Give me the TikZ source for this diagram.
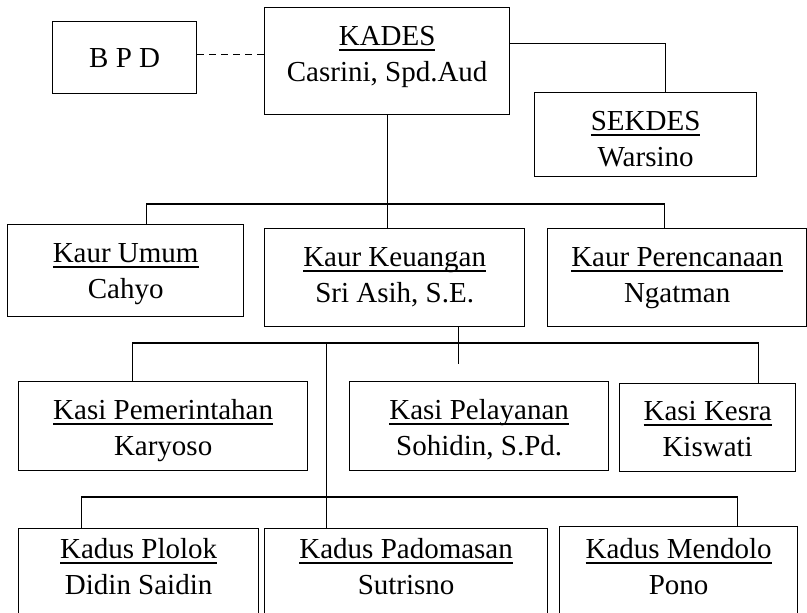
\documentclass[tikz,border=0pt]{standalone}
\usepackage{fontspec}
\setmainfont{Liberation Serif}
\newlength\ulwd
\newcommand\ulbox[1]{\settowidth{\ulwd}{#1}\makebox[0pt][l]{\rule[-5pt]{\ulwd}{1.3pt}}#1}
\newcommand\twolines[2]{\begin{tabular}[t]{@{}c@{}}\ulbox{#1}\\#2\end{tabular}}
\tikzset{
  orgbox/.style={draw, line width=1.3pt, inner sep=0pt, anchor=north west,
    font=\fontsize{29}{36}\selectfont, align=center},
  link/.style={line width=1.1pt},
}
\begin{document}
\begin{tikzpicture}[x=1pt,y=-1pt]
\clip (0,0) rectangle (807,613);
\fill[white] (0,0) rectangle (807,613);
\frenchspacing
% boxes
\node[orgbox, minimum width=144pt, text height=46pt, text depth=26pt] (bpd) at (52,21) {B P D};
\node[orgbox, minimum width=245pt, text height=38pt, text depth=69pt] (kades) at (264,7) {\twolines{KADES}{Casrini, Spd.Aud}};
\node[orgbox, minimum width=222pt, text height=38pt, text depth=46pt] (sekdes) at (534,92) {\twolines{SEKDES}{Warsino}};
\node[orgbox, minimum width=236pt, text height=38pt, text depth=54pt] (umum) at (7,224) {\twolines{Kaur Umum}{Cahyo}};
\node[orgbox, minimum width=260pt, text height=38pt, text depth=60pt] (keuangan) at (264,228) {\twolines{Kaur Keuangan}{Sri Asih, S.E.}};
\node[orgbox, minimum width=259pt, text height=38pt, text depth=60pt] (perencanaan) at (547,228) {\twolines{Kaur Perencanaan}{Ngatman}};
\node[orgbox, minimum width=289pt, text height=38pt, text depth=51pt] (pemerintahan) at (18,381) {\twolines{Kasi Pemerintahan}{Karyoso}};
\node[orgbox, minimum width=259pt, text height=38pt, text depth=51pt] (pelayanan) at (349,381) {\twolines{Kasi Pelayanan}{Sohidin, S.Pd.}};
\node[orgbox, minimum width=176pt, text height=37pt, text depth=51pt] (kesra) at (619,383) {\twolines{Kasi Kesra}{Kiswati}};
\node[orgbox, minimum width=240pt, text height=30pt, text depth=80pt] (plolok) at (18,528) {\twolines{Kadus Plolok}{Didin Saidin}};
\node[orgbox, minimum width=283pt, text height=30pt, text depth=80pt] (padomasan) at (264,528) {\twolines{Kadus Padomasan}{Sutrisno}};
\node[orgbox, minimum width=238pt, text height=32pt, text depth=80pt] (mendolo) at (559,526) {\twolines{Kadus Mendolo}{Pono}};
% connectors
\draw[link, dash pattern=on 7pt off 5pt] ([yshift=3pt]bpd.east) -- ([yshift=3pt]bpd.east -| kades.west);
\draw[link] ([yshift=17.5pt]kades.east) -| ([xshift=20pt]sekdes.north);
\draw[link] (kades.south) -- (kades.south |- keuangan.north);
\draw[link] ([xshift=21pt]umum.north) -- ++(0,-20) -| ([xshift=-12.5pt]perencanaan.north);
\draw[link] ([xshift=-30.5pt]pemerintahan.north) -- ++(0,-38) -| ([xshift=51pt]kesra.north);
\draw[link] ([xshift=64pt]keuangan.south) -- ++(0,37);
\draw[link] ([xshift=-79.5pt]padomasan.north) -- ++(0,-185);
\draw[link] ([xshift=-57pt]plolok.north) -- ++(0,-31) -| ([xshift=59pt]mendolo.north);
\end{tikzpicture}
\end{document}
